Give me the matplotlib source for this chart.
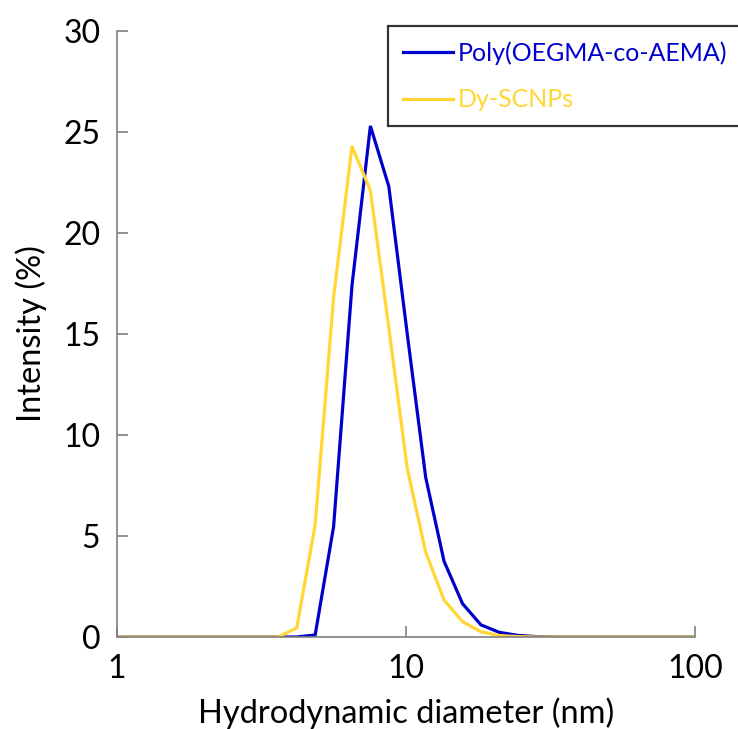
import matplotlib
matplotlib.use("Agg")
import matplotlib.pyplot as plt

plt.rcParams['font.family'] = ['Lato', 'DejaVu Sans']

# Size bins (nm) of the DLS intensity distribution
diameter_nm = [0.4, 0.4632, 0.5365, 0.6213, 0.7195, 0.8332, 0.9649, 1.117,
               1.294, 1.499, 1.736, 2.010, 2.328, 2.696, 3.122, 3.615, 4.187,
               4.849, 5.615, 6.503, 7.531, 8.721, 10.10, 11.70, 13.54, 15.69,
               18.17, 21.04, 24.36, 28.21, 32.67, 37.84, 43.82, 50.75, 58.77,
               68.06, 78.82, 91.28, 105.7]

polymer_intensity = [0] * 13 + [0, 0, 0, 0, 0.1, 5.45, 17.4, 25.3, 22.3,
                                15.0, 7.9, 3.75, 1.65, 0.6, 0.23, 0.08, 0.02, 0,
                                0, 0, 0, 0, 0, 0, 0, 0]
scnp_intensity = [0] * 13 + [0, 0, 0, 0.45, 5.55, 16.8, 24.3, 22.1, 15.3,
                             8.35, 4.2, 1.83, 0.76, 0.26, 0.07, 0.02, 0, 0,
                             0, 0, 0, 0, 0, 0, 0, 0]

series_labels = ["Poly(OEGMA-co-AEMA)", "Dy-SCNPs"]
series_colors = ["#0000CC", "#FFD633"]
x_ticks = [1, 10, 100]
y_ticks = [0, 5, 10, 15, 20, 25, 30]

fig = plt.figure(figsize=(7.38, 7.29), dpi=100)
ax = fig.add_axes([117 / 738, 1 - 637 / 729, (695 - 117) / 738, (637 - 31) / 729])

handles = []
for vals, lab, col in zip([polymer_intensity, scnp_intensity], series_labels, series_colors):
    h, = ax.plot(diameter_nm, vals, color=col, lw=2.3, label=lab, solid_joinstyle='miter')
    handles.append(h)

ax.set_xscale('log')
ax.set_xlim(1, 100)
ax.set_ylim(0, 30)
ax.set_yticks(y_ticks)
ax.set_xticks(x_ticks)
ax.set_xticklabels([str(t) for t in x_ticks])
ax.xaxis.set_minor_locator(matplotlib.ticker.NullLocator())

for s in ['top', 'right']:
    ax.spines[s].set_visible(False)
for s in ['left', 'bottom']:
    ax.spines[s].set_color('#808080')
    ax.spines[s].set_linewidth(1.2)

ax.tick_params(axis='both', direction='in', length=8, width=1.2, color='#808080',
               labelsize=23, labelcolor='black')
ax.tick_params(axis='x', pad=12)
ax.tick_params(axis='y', pad=12)

ax.set_xlabel("Hydrodynamic diameter (nm)", fontsize=23.5, labelpad=10)
ax.set_ylabel("Intensity (%)", fontsize=23.5, labelpad=12)

# Legend box runs past the right edge of the figure
leg = fig.legend(handles=handles, loc='upper left', mode='expand',
                 bbox_to_anchor=(388 / 738, 1 - 125 / 729, 0.6, 99 / 729),
                 borderaxespad=0, fontsize=18, frameon=True, fancybox=False,
                 handlelength=2.0, handletextpad=0.2, borderpad=0.6,
                 labelspacing=0.95)
leg.get_frame().set_edgecolor('black')
leg.get_frame().set_linewidth(1.6)
for txt, col in zip(leg.get_texts(), series_colors):
    txt.set_color(col)

fig.savefig("out.png", dpi=100)
